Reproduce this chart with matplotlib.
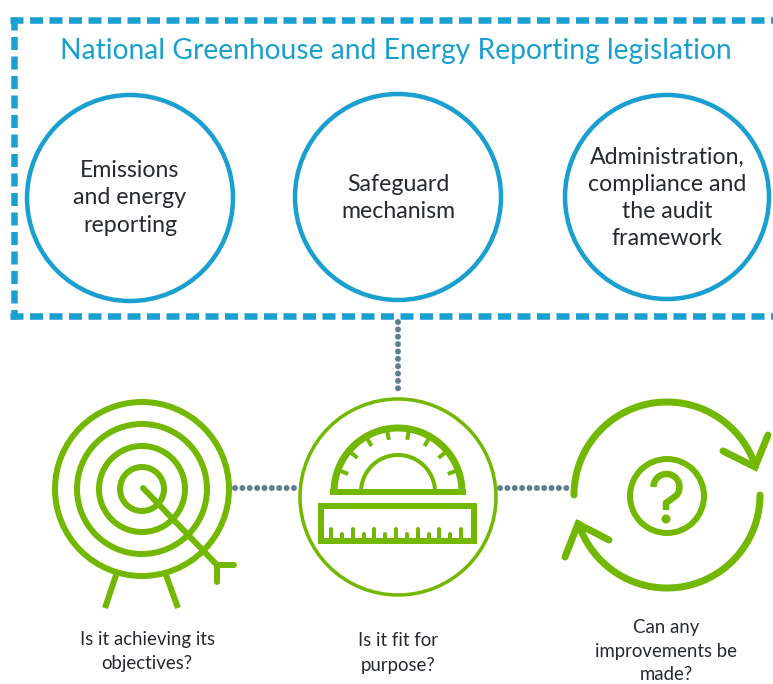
import numpy as np
import matplotlib
matplotlib.use("Agg")
import matplotlib.pyplot as plt
from matplotlib.patches import Circle

plt.rcParams['font.family'] = ['Lato', 'DejaVu Sans']

BLUE = "#1a9fd1"
GREEN = "#72b800"
DOTS = "#5f7f90"
DARK = "#262a2e"

title = "National Greenhouse and Energy Reporting legislation"
top_labels = ["Emissions\nand energy\nreporting", "Safeguard\nmechanism",
              "Administration,\ncompliance and\nthe audit\nframework"]
top_x = [130, 398, 667]
top_y = [198, 197, 197]
top_r = [103, 103, 102]
bottom_labels = ["Is it achieving its\nobjectives?", "Is it fit for\npurpose?",
                 "Can any\nimprovements be\nmade?"]
bottom_x = [147, 398, 666]
bottom_y = [651, 653, 651]
ring_radii = [87, 65, 43, 22]
protractor_ticks = [20, 40, 60, 80, 100, 120, 140, 160]


def px(w):
    return w * 0.72


def line(ax, xs, ys, w, color=GREEN, cap="round"):
    ax.plot(xs, ys, color=color, lw=px(w), solid_capstyle=cap, solid_joinstyle="miter")


def arc(ax, cx, cy, r, a1, a2, w, color=GREEN, cap="round"):
    t = np.radians(np.linspace(a1, a2, 120))
    line(ax, cx + r * np.cos(t), cy - r * np.sin(t), w, color, cap)


def ring(ax, cx, cy, r, w, color=GREEN):
    ax.add_patch(Circle((cx, cy), r, fill=False, edgecolor=color, lw=px(w)))


def dashed(ax, xs, ys):
    ax.plot(xs, ys, color=BLUE, lw=px(6.5), linestyle=(0, (13 / 6.5, 6.5 / 6.5)), dash_capstyle="butt")


def dotted(ax, xs, ys):
    ax.plot(xs, ys, color=DOTS, lw=px(6), linestyle=(0, (0.01, 7.3 / 6)), dash_capstyle="round")


fig = plt.figure(figsize=(7.73, 6.84), dpi=100)
ax = fig.add_axes([0, 0, 1, 1])
ax.set_xlim(0, 773)
ax.set_ylim(684, 0)
ax.axis("off")

# dashed frame, open on the right
dashed(ax, [10, 773], [20, 20])
dashed(ax, [13.5, 13.5], [17, 319])
dashed(ax, [10, 773], [316, 316])

ax.text(396, 51, title, color=BLUE, fontsize=20.3, ha="center", va="center")

for x, y, r, label in zip(top_x, top_y, top_r, top_labels):
    ring(ax, x, y, r, 4.5, BLUE)
    ax.text(x, 198, label, color=DARK, fontsize=16.7, ha="center", va="center", linespacing=1.36)

# dotted connectors
dotted(ax, [398, 398], [322, 395])
dotted(ax, [235, 297], [487.5, 487.5])
dotted(ax, [500, 570], [487.5, 487.5])

# target
for r in ring_radii:
    ring(ax, 142, 489, r, 6)
line(ax, [143, 217], [488, 565], 6)
line(ax, [217, 234], [565, 565], 6)
line(ax, [217, 217], [565, 582], 6)
line(ax, [116, 105], [575, 608], 6, cap="butt")
line(ax, [166, 178], [575, 608], 6, cap="butt")

# protractor and ruler
ring(ax, 398, 497, 98, 3.5)
arc(ax, 398, 492, 64, 0, 180, 7, cap="butt")
line(ax, [330, 466], [492, 492], 6, cap="butt")
arc(ax, 398, 492, 37, 0, 180, 4, cap="butt")
for a in protractor_ticks:
    t = np.radians(a)
    line(ax, [398 + 64 * np.cos(t), 398 + 53 * np.cos(t)],
         [492 - 64 * np.sin(t), 492 - 53 * np.sin(t)], 4, cap="butt")
line(ax, [321, 474, 474, 321, 321, 474], [506, 506, 541, 541, 506, 506], 6, cap="butt")
for i, x in enumerate(np.linspace(331, 461, 13)):
    top = 529 if i % 2 == 0 else 534
    line(ax, [x, x], [top, 541], 4, cap="round")

# cycle arrows and question mark
arc(ax, 667, 495, 93, 180, 18, 7)
line(ax, [768, 755, 723], [435, 467, 451], 7)
arc(ax, 667, 495, 93, 0, -162, 7)
line(ax, [565, 578, 609], [557, 524, 540], 7)
ring(ax, 667, 496, 37, 6)
t = np.radians(np.linspace(180, -40, 60))
line(ax, np.r_[666.5 + 13 * np.cos(t), 666, 666], np.r_[487 - 13 * np.sin(t), 503, 510], 6.5, cap="butt")
ax.add_patch(Circle((666, 519), 4.5, color=GREEN, lw=0))

for x, y, label in zip(bottom_x, bottom_y, bottom_labels):
    ax.text(x, y, label, color=DARK, fontsize=13.4, ha="center", va="center", linespacing=1.5)

fig.savefig("out.png", dpi=100)
